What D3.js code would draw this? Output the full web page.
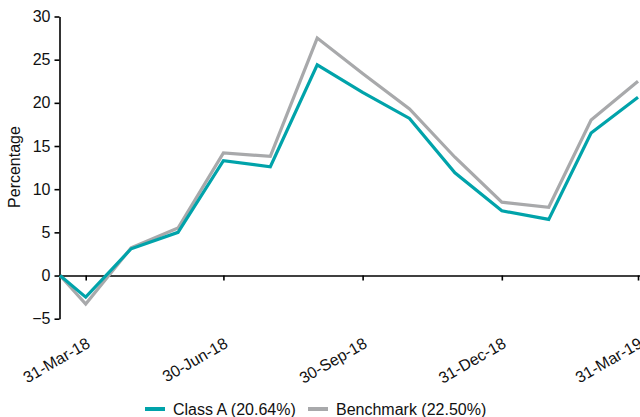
<!DOCTYPE html>
<html>
<head>
<meta charset="utf-8">
<script src="https://cdn.jsdelivr.net/npm/d3@7"></script>
<style>
  body { margin: 0; background: #fff; }
  text { font-family: "Liberation Sans", Arial, sans-serif; }
</style>
</head>
<body>
<script>
// ----- data -----
const dates = ['2018-03-14', '2018-03-31', '2018-04-30', '2018-05-31', '2018-06-30', '2018-07-31',
  '2018-08-31', '2018-09-30', '2018-10-31', '2018-11-30', '2018-12-31', '2019-01-31',
  '2019-02-28', '2019-03-31'];
const classA = [0, -2.5, 3.1, 5.0, 13.3, 12.6, 24.4, 21.2, 18.2, 11.9, 7.5, 6.5, 16.5, 20.64];
const benchmark = [0, -3.3, 3.2, 5.5, 14.2, 13.8, 27.5, 23.4, 19.3, 13.7, 8.5, 7.9, 18.0, 22.5];
const tickDates = ['2018-03-31', '2018-06-30', '2018-09-30', '2018-12-31', '2019-03-31'];
const tickLabels = ['31-Mar-18', '30-Jun-18', '30-Sep-18', '31-Dec-18', '31-Mar-19'];
const yTicks = [-5, 0, 5, 10, 15, 20, 25, 30];
const seriesNames = ['Class A (20.64%)', 'Benchmark (22.50%)'];
const colors = ['#00a3aa', '#a8a9ab'];

const parse = d3.timeParse('%Y-%m-%d');
const fs = 16;

const svg = d3.select('body').append('svg')
  .attr('width', 640)
  .attr('height', 417);

const x = d3.scaleTime()
  .domain([parse(dates[0]), parse(dates[dates.length - 1])])
  .range([60, 638]);

const y = d3.scaleLinear()
  .domain([-5, 30])
  .range([318.7, 16.5]);

// y axis
const yAxis = svg.append('g')
  .attr('transform', 'translate(59.5,0)')
  .call(d3.axisLeft(y).tickValues(yTicks).tickSize(5).tickSizeOuter(0).tickPadding(4));
yAxis.select('.domain').attr('stroke', '#000').attr('stroke-width', 1.6);
yAxis.selectAll('.tick line').attr('stroke', '#000').attr('stroke-width', 1.6);
yAxis.selectAll('.tick text')
  .attr('font-size', fs)
  .attr('fill', '#111');

// x axis along zero
const xAxis = svg.append('g')
  .attr('transform', `translate(0,${y(0)})`)
  .call(d3.axisBottom(x).tickValues(tickDates.map(parse)).tickSize(5).tickSizeOuter(0)
    .tickFormat((d, i) => tickLabels[i]));
xAxis.select('.domain').attr('d', `M59,0.5H640`).attr('stroke', '#000').attr('stroke-width', 1.6);
xAxis.selectAll('.tick line').attr('stroke', '#000').attr('stroke-width', 1.6);
xAxis.selectAll('.tick text')
  .attr('font-size', fs)
  .attr('fill', '#111')
  .attr('text-anchor', 'end')
  .attr('y', 0)
  .attr('dy', 0)
  .attr('transform', 'translate(5,71) rotate(-30)');

// y label
svg.append('text')
  .attr('transform', 'translate(20,167) rotate(-90)')
  .attr('text-anchor', 'middle')
  .attr('font-size', fs)
  .attr('fill', '#111')
  .text('Percentage');

// ----- lines -----
const line = d3.line()
  .x((d, i) => x(parse(dates[i])))
  .y(d => y(d));

[benchmark, classA].forEach((s, k) => {
  svg.append('path')
    .datum(s)
    .attr('fill', 'none')
    .attr('stroke', k === 0 ? colors[1] : colors[0])
    .attr('stroke-width', 3.2)
    .attr('stroke-linejoin', 'miter')
    .attr('d', line);
});

// ----- legend -----
const legendX = [145, 308];
const legend = svg.selectAll('.legend')
  .data(seriesNames)
  .join('g')
  .attr('class', 'legend')
  .attr('transform', (d, i) => `translate(${legendX[i]},409)`);
legend.append('line')
  .attr('x1', 0).attr('x2', 20)
  .attr('stroke', (d, i) => colors[i])
  .attr('stroke-width', 4);
legend.append('text')
  .attr('x', 28)
  .attr('dy', '0.35em')
  .attr('font-size', fs)
  .attr('fill', '#111')
  .text(d => d);
</script>
</body>
</html>
